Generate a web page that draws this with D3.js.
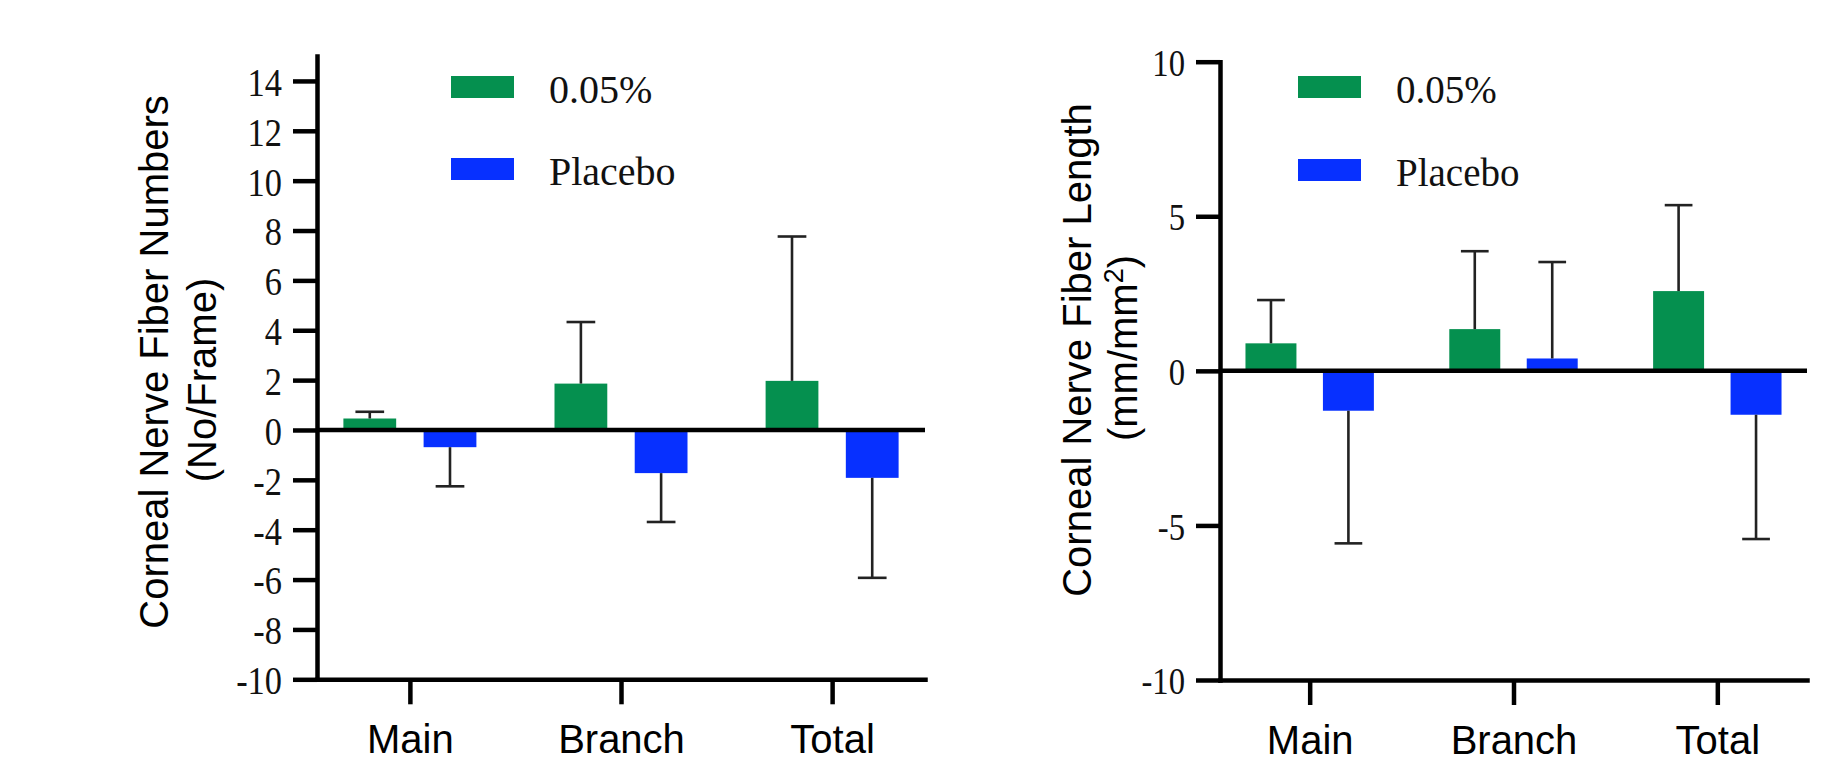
<!DOCTYPE html>
<html>
<head>
	<meta charset="utf-8">
	<title>Corneal nerve fiber change</title>
	<script type="text/javascript" src="https://cdn.jsdelivr.net/npm/d3@7"></script>
	<style type="text/css">
		body {
			margin: 0;
			background: #ffffff;
		}
		.serif {
			font-family: "Liberation Serif", "Times New Roman", serif;
		}
		.sans {
			font-family: "Liberation Sans", Arial, sans-serif;
		}
	</style>
</head>

<body>
	<div id="svgdiv"></div>

	<script type="text/javascript">
		// data
		var categories = ["Main", "Branch", "Total"];
		var seriesNames = ["0.05%", "Placebo"];
		var seriesColours = ["#05904f", "#0730ff"];

		// left panel: fiber numbers (No/Frame), mean and SD
		var numbersMean05 = [0.46, 1.86, 1.97];
		var numbersSd05 = [0.27, 2.47, 5.79];
		var numbersMeanPlacebo = [-0.69, -1.73, -1.92];
		var numbersSdPlacebo = [1.57, 1.96, 4.01];
		var numbersTicks = [-10, -8, -6, -4, -2, 0, 2, 4, 6, 8, 10, 12, 14];

		// right panel: fiber length (mm/mm2), mean and SD
		var lengthMean05 = [0.89, 1.35, 2.58];
		var lengthSd05 = [1.40, 2.52, 2.78];
		var lengthMeanPlacebo = [-1.29, 0.40, -1.42];
		var lengthSdPlacebo = [4.29, 3.12, 4.02];
		var lengthTicks = [-10, -5, 0, 5, 10];

		var w = 1825;
		var h = 765;

		var svg = d3.select("#svgdiv")
					.append("svg")
					.attr("width", w)
					.attr("height", h);

		// panel settings (layout only)
		var panels = [
			{
				left: 317, right: 925, top: 56, bottom: 679.3,
				domain: [-10, 15], ticks: numbersTicks, tickFont: 40,
				means: [numbersMean05, numbersMeanPlacebo],
				sds: [numbersSd05, numbersSdPlacebo],
				title: ["Corneal Nerve Fiber Numbers", "(No/Frame)"],
				titleX: [168, 216], titleY: [362, 380],
				legendX: 451, legendY: [76, 158], legendFont: 40
			},
			{
				left: 1220, right: 1807, top: 61.7, bottom: 680,
				domain: [-10, 10], ticks: lengthTicks, tickFont: 38,
				means: [lengthMean05, lengthMeanPlacebo],
				sds: [lengthSd05, lengthSdPlacebo],
				title: ["Corneal Nerve Fiber Length", "(mm/mm"],
				titleX: [1091, 1137], titleY: [350, 348],
				legendX: 1298, legendY: [76, 159], legendFont: 39
			}
		];

		panels.forEach(drawPanel);

		function drawPanel(p) {
			var g = svg.append("g");

			var x = d3.scalePoint()
						.domain(categories)
						.range([p.left, p.right])
						.padding(0.44);
			var step = x.step();

			var x1 = d3.scaleBand()
						.domain(seriesNames)
						.range([-0.315 * step, 0.315 * step])
						.paddingInner(0.342);

			var y = d3.scaleLinear()
						.domain(p.domain)
						.range([p.bottom, p.top]);

			// bars
			seriesNames.forEach(function(s, si) {
				g.selectAll(".bar" + si)
					.data(categories)
					.enter()
					.append("rect")
					.attr("x", function(d) { return x(d) + x1(s); })
					.attr("y", function(d, i) { return y(Math.max(0, p.means[si][i])); })
					.attr("width", x1.bandwidth())
					.attr("height", function(d, i) { return Math.abs(y(p.means[si][i]) - y(0)); })
					.attr("fill", seriesColours[si]);

				// error bars go away from zero
				var capHalf = 0.068 * step;
				categories.forEach(function(c, i) {
					var m = p.means[si][i];
					var end = m + (m >= 0 ? 1 : -1) * p.sds[si][i];
					var cx = x(c) + x1(s) + x1.bandwidth() / 2;
					g.append("line")
						.attr("x1", cx).attr("x2", cx)
						.attr("y1", y(m)).attr("y2", y(end))
						.attr("stroke", "#222").attr("stroke-width", 2.6);
					g.append("line")
						.attr("x1", cx - capHalf).attr("x2", cx + capHalf)
						.attr("y1", y(end)).attr("y2", y(end))
						.attr("stroke", "#222").attr("stroke-width", 2.6);
				});
			});

			// zero line
			g.append("line")
				.attr("x1", p.left).attr("x2", p.right)
				.attr("y1", y(0)).attr("y2", y(0))
				.attr("stroke", "#000").attr("stroke-width", 4.5);

			// y axis
			var yAxis = g.append("g")
				.attr("transform", "translate(" + p.left + ",0)")
				.call(d3.axisLeft(y).tickValues(p.ticks).tickSize(24).tickSizeOuter(0)
					.tickFormat(function(d) { return String(d); }));
			yAxis.select(".domain").attr("stroke-width", 4.5).attr("stroke-linecap", "square");
			yAxis.selectAll(".tick line").attr("stroke-width", 4.5);
			yAxis.selectAll(".tick text")
				.attr("class", "serif")
				.attr("font-size", p.tickFont)
				.attr("fill", "#111")
				.attr("x", null)
				.attr("dy", "0.36em")
				.attr("text-anchor", "end")
				.attr("transform", "translate(-35,0) scale(0.86,1)");

			// x axis
			var xAxis = g.append("g")
				.attr("transform", "translate(0," + p.bottom + ")")
				.call(d3.axisBottom(x).tickSize(25).tickSizeOuter(0));
			xAxis.select(".domain").attr("stroke-width", 4.5).attr("stroke-linecap", "square");
			xAxis.selectAll(".tick line").attr("stroke-width", 4.5);
			xAxis.selectAll(".tick text")
				.attr("class", "sans")
				.attr("font-size", 40)
				.attr("fill", "#000")
				.attr("y", 74)
				.attr("dy", 0);

			// y title
			p.title.forEach(function(t, i) {
				var txt = g.append("text")
					.attr("class", "sans")
					.attr("font-size", 40)
					.attr("text-anchor", "middle")
					.attr("transform", "translate(" + p.titleX[i] + "," + p.titleY[i] + ") rotate(-90)")
					.text(t);
				if (t.indexOf("mm/mm") >= 0) {
					txt.append("tspan").attr("font-size", 27).attr("dy", -14).text("2");
					txt.append("tspan").attr("dy", 14).text(")");
				}
			});

			// legend
			seriesNames.forEach(function(s, si) {
				g.append("rect")
					.attr("x", p.legendX)
					.attr("y", p.legendY[si])
					.attr("width", 63)
					.attr("height", 22)
					.attr("fill", seriesColours[si]);
				g.append("text")
					.attr("class", "serif")
					.attr("font-size", p.legendFont)
					.attr("fill", "#111")
					.attr("x", p.legendX + 98)
					.attr("y", p.legendY[si] + 27)
					.text(s);
			});
		}
	</script>
</body>
</html>
